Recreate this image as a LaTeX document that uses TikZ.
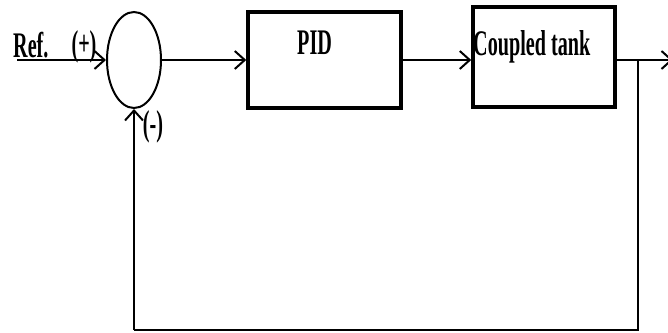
\documentclass[tikz,border=0pt]{standalone}
\usepackage{fontspec}
\setmainfont{Liberation Serif}[FakeStretch=0.56]
\usetikzlibrary{arrows.meta,shapes.geometric}
\tikzset{
  conn/.style={line width=2pt,-{Straight Barb[length=10pt,width=18pt,line width=2pt]}},
  line/.style={line width=2pt},
  blk/.style={draw,line width=3.5pt,rectangle,inner sep=0pt},
  lbl/.style={font=\fontsize{36}{40}\selectfont\bfseries,inner sep=0pt},
  sgn/.style={font=\fontsize{36}{40}\selectfont\bfseries,inner sep=0pt}
}
\begin{document}
\begin{tikzpicture}[x=1pt,y=-1pt]
\useasboundingbox (0,0) rectangle (668,332);
\node[draw,ellipse,line width=2pt,minimum width=54pt,minimum height=96pt,inner sep=0pt] (sum) at (134,60) {};
\node[blk,minimum width=153pt,minimum height=96pt] (pid) at (324.5,60) {};
\node[blk,minimum width=142pt,minimum height=100pt] (tank) at (544,57) {};
\node[lbl,anchor=base west] (tpid) at (297,54.5) {PID};
\node[lbl,anchor=base west] (ttank) at (473,55) {Coupled tank};
\node[lbl,anchor=base west] (tref) at (13,57) {Ref.};
\node[sgn] (plus) at (84,46.5) {(+)};
\node[sgn] (minus) at (153,127) {(-)};
\coordinate (in) at (17,60);
\coordinate (out) at (673,60);
\coordinate (br) at (638,60);
\coordinate (bb) at (638,330);
\coordinate (bl) at (134,330);
\draw[conn] (in) -- (sum.west);
\draw[conn] (sum.east) -- (sum.east -| pid.west);
\draw[conn] (pid.east) -- (pid.east -| tank.west);
\draw[conn] (tank.east |- out) -- (out);
\draw[line] (br) -- (bb) -- (bl);
\draw[conn] (bl) -- (sum.south);
\end{tikzpicture}
\end{document}
